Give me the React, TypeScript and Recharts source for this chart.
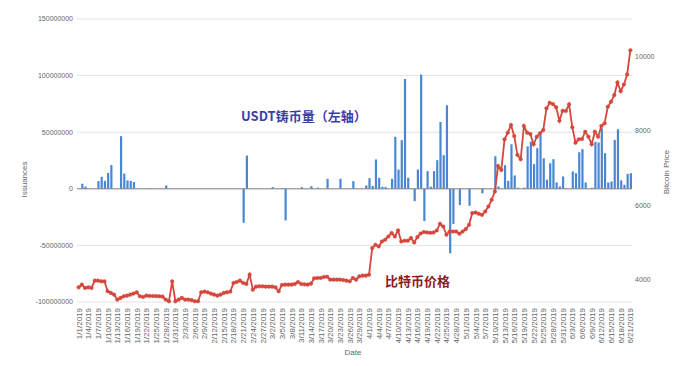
import { ComposedChart, Bar, Line, XAxis, YAxis, CartesianGrid, ReferenceLine } from "recharts"

// USDT issuance per day, in millions (left axis)
const issuance = [
  0, 4.5, 2, 0, 0, 0, 6.8, 10.6, 7, 14, 21, 0, 0, 46.5, 13.5, 7.4, 7, 6, 0, 0,
  0, 0, 0.5, 0, 0, 0, 0, 3, 0, 0, 0, 0, 0, 0, 0, 0, 0, 0, 0, 0,
  0, 0, 0, 0, 0, 0, 0, 0, 0, 0, 0, -30, 29.4, 0, 0, 0, 0, 0, 0, 0,
  1.5, 0, 0, 0.5, -28, 0, 0, 0, 0, 1.5, 0, 0, 2.3, 0, 1, 0, 0, 8.8, 0, 0,
  0, 8.8, 0, 0, 0, 6.8, 0, 0, 0, 3, 9.4, 2.5, 25.9, 9.7, 1.8, 1.5, 0, 8.8, 45.9, 17,
  43, 97, 9.7, 0, -10.9, 17, 100.9, -28.5, 15.6, 1.8, 15.6, 25.3, 59, 29.7, 73.8, -57, -31, 0, -14.4, 0,
  0, -15, 0, 0, 0, -4, 0, 0, 0, 28.8, 2, 0, 20.9, 7, 39.4, 11.8, 1, 0, 1, 37.5,
  41.6, 21.8, 35.9, 47.6, 27, 8, 22.6, 26.2, 5.6, 2, 10.9, 0.5, 0, 15.3, 13.8, 32.3, 35, 5.6, 0, 1,
  41.5, 41, 53.5, 31.5, 5.6, 6.5, 43.2, 52.6, 7.4, 3.5, 13.2, 13.8,
]

// Bitcoin price (right axis)
const btcPrice = [
  3794, 3866, 3778, 3794, 3778, 3973, 3973, 3955, 3955, 3687, 3644, 3598, 3464, 3510, 3553, 3571, 3598, 3625, 3660, 3553,
  3536, 3571, 3563, 3563, 3558, 3553, 3545, 3464, 3419, 3955, 3419, 3464, 3510, 3464, 3464, 3451, 3419, 3419, 3660, 3678,
  3660, 3625, 3598, 3571, 3598, 3644, 3660, 3678, 3912, 3938, 3973, 3912, 3885, 4134, 3732, 3812, 3821, 3821, 3812, 3812,
  3812, 3794, 3687, 3858, 3866, 3866, 3866, 3885, 3938, 3885, 3874, 3866, 3893, 4036, 4045, 4045, 4072, 4080, 4000, 4000,
  4000, 4000, 3992, 3973, 3955, 4045, 4000, 4088, 4107, 4107, 4134, 4849, 4938, 4892, 5026, 5072, 5160, 5251, 5160, 5321,
  5026, 5045, 5045, 5117, 4999, 5143, 5240, 5280, 5267, 5259, 5267, 5321, 5500, 5428, 5206, 5294, 5294, 5294, 5232, 5294,
  5358, 5473, 5787, 5803, 5768, 5741, 5830, 5964, 6143, 6366, 7054, 6947, 7769, 7946, 8152, 7858, 7349, 7234, 8126, 7946,
  7911, 7635, 7839, 7930, 8019, 8600, 8750, 8715, 8627, 8268, 8536, 8528, 8707, 8091, 7678, 7769, 7777, 7973, 7839, 7635,
  7973, 7839, 8126, 8198, 8643, 8777, 8956, 9296, 9063, 9243, 9511, 10162,
]

const leftTicks = [-100, -50, 0, 50, 100, 150]
const rightTicks = [4000, 6000, 8000, 10000]

// days in each month covered: 1/1/2019 .. 6/21/2019
const monthDays = [31, 28, 31, 30, 31, 21]
const dates: string[] = []
monthDays.forEach((n, m) => {
  for (let d = 1; d <= n; d++) dates.push(`${m + 1}/${d}/2019`)
})

const data = dates.map((date, i) => ({ date, issuance: issuance[i], price: btcPrice[i] }))

const FONT = "Arial, 'Liberation Sans', sans-serif"
const CJK = "'Noto Sans CJK SC', sans-serif"

const DateTick = (props: any) => {
  const { x, y, payload } = props
  return (
    <text
      transform={`translate(${x + 3},${y + 4}) rotate(-90)`}
      textAnchor="end"
      fontSize={8}
      fill="#666"
      fontFamily={FONT}
    >
      {payload.value}
    </text>
  )
}

export default function App() {
  return (
    <div style={{ position: "relative", width: 680, height: 366, background: "#fff" }}>
      <style>{`body{margin:0}`}</style>
      <ComposedChart width={680} height={366} data={data} margin={{ top: 19, right: 0, bottom: 0, left: 0 }}>
        <CartesianGrid vertical={false} yAxisId="left" stroke="#e2e2e2" />
        <XAxis
          dataKey="date"
          interval={2}
          height={64}
          axisLine={false}
          tickLine={false}
          tickSize={0}
          tick={<DateTick />}
        />
        <YAxis
          yAxisId="left"
          width={77}
          domain={[-100, 150]}
          ticks={leftTicks}
          tickFormatter={(v: number) => (v === 0 ? "0" : String(v * 1000000))}
          axisLine={false}
          tickLine={false}
          tickSize={0}
          tickMargin={4}
          tick={{ fontSize: 7, fill: "#666", fontFamily: FONT }}
        />
        <YAxis
          yAxisId="right"
          orientation="right"
          width={48}
          domain={[3400, 11000]}
          ticks={rightTicks}
          axisLine={false}
          tickLine={false}
          tickSize={0}
          tickMargin={3}
          tick={{ fontSize: 7, fill: "#666", fontFamily: FONT }}
        />
        <ReferenceLine y={0} yAxisId="left" stroke="#888" />
        <Bar dataKey="issuance" yAxisId="left" fill="#4a86d6" barSize={2.2} isAnimationActive={false} />
        <Line
          dataKey="price"
          yAxisId="right"
          type="linear"
          stroke="#d5473c"
          strokeWidth={1.8}
          dot={{ r: 1.8, fill: "#d5473c", stroke: "#d5473c", strokeWidth: 0.5 }}
          isAnimationActive={false}
        />
      </ComposedChart>
      <svg width={680} height={366} style={{ position: "absolute", left: 0, top: 0, pointerEvents: "none" }}>
        <text x={241} y={121} fontSize={13} fontWeight="bold" fill="#3d3fa6" fontFamily={CJK}>
          USDT铸币量（左轴）
        </text>
        <text x={385} y={286} fontSize={13} fontWeight="bold" fill="#8b1a22" fontFamily={CJK}>
          比特币价格
        </text>
        <text x={353} y={355} fontSize={8} fill="#666" textAnchor="middle" fontFamily={FONT}>
          Date
        </text>
        <text transform="translate(27,179.5) rotate(-90)" fontSize={8} fill="#666" textAnchor="middle" fontFamily={FONT}>
          Issuances
        </text>
        <text transform="translate(669,172) rotate(-90)" fontSize={8} fill="#666" textAnchor="middle" fontFamily={FONT}>
          Bitcoin Price
        </text>
      </svg>
    </div>
  )
}
